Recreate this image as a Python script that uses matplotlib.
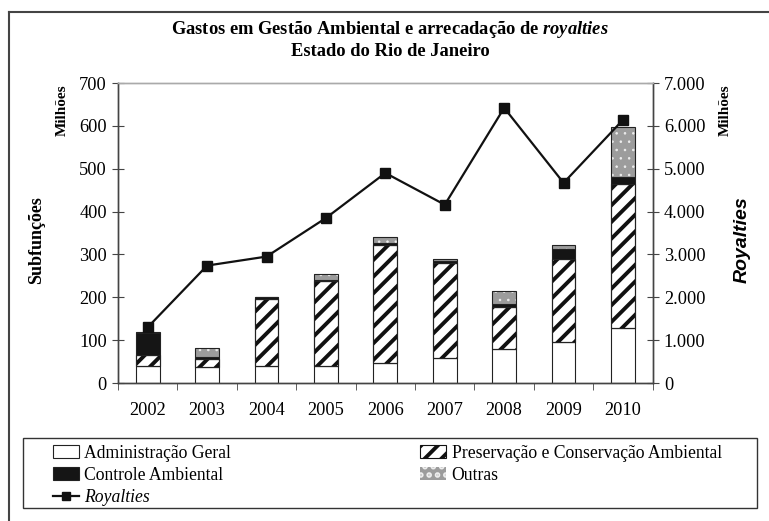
import matplotlib
matplotlib.use("Agg")
import matplotlib.pyplot as plt
from matplotlib.patches import Patch, Rectangle
from matplotlib.lines import Line2D
import numpy as np

years = ["2002", "2003", "2004", "2005", "2006", "2007", "2008", "2009", "2010"]
admin = [40, 37, 40, 40, 47, 58, 80, 96, 128]
preserv = [26, 20, 157, 198, 276, 222, 97, 194, 336]
controle = [51, 3, 3, 3, 3, 5, 8, 23, 16]
outras = [3, 22, 0, 13, 14, 4, 29, 10, 117]
royalties = [1300, 2740, 2950, 3850, 4900, 4160, 6420, 4670, 6140]

left_ticks = [0, 100, 200, 300, 400, 500, 600, 700]
right_ticks = [0, 1000, 2000, 3000, 4000, 5000, 6000, 7000]
right_labels = ["0", "1.000", "2.000", "3.000", "4.000", "5.000", "6.000", "7.000"]

plt.rcParams['font.family'] = ['Liberation Serif', 'DejaVu Serif']
plt.rcParams['mathtext.fontset'] = 'custom'
plt.rcParams['mathtext.it'] = 'Liberation Serif:italic:bold'
plt.rcParams['mathtext.rm'] = 'Liberation Serif:bold'
plt.rcParams['hatch.linewidth'] = 2.8

fig = plt.figure(figsize=(7.69, 5.21), dpi=100)
ax = fig.add_axes([118/769, 1-383/521, (652.7-118)/769, 300/521])
ax2 = ax.twinx()

x = np.arange(len(years))
w = 0.40
edge = '#222222'
b1 = np.array(admin)
b2 = b1 + np.array(preserv)
b3 = b2 + np.array(controle)
gray = '#9c9c9c'

ax.bar(x, admin, w, color='white', edgecolor=edge, linewidth=0.8, zorder=2)
ax.bar(x, preserv, w, bottom=b1, color='white', edgecolor='#111111', hatch='//', linewidth=0.8, zorder=2)
ax.bar(x, preserv, w, bottom=b1, color='none', edgecolor=edge, linewidth=0.8, zorder=3)
ax.bar(x, controle, w, bottom=b2, color='#151515', edgecolor=edge, linewidth=0.8, zorder=2)
with plt.rc_context({'hatch.linewidth': 0.6}):
    ax.bar(x, outras, w, bottom=b3, color=gray, edgecolor='#eeeeee', hatch='..', linewidth=0, zorder=2)
    h_out = Patch(facecolor=gray, edgecolor='#eeeeee', hatch='..', linewidth=0)
ax.bar(x, outras, w, bottom=b3, color='none', edgecolor=edge, linewidth=0.8, zorder=3)

ax.set_xlim(-0.5, 8.5)
ax.set_ylim(0, 700)
ax.set_yticks(left_ticks)
ax.set_xticks(x)
ax.set_xticklabels(years)
ax.set_xticks(np.arange(-0.5, 9, 1), minor=True)
ax.tick_params(axis='x', which='major', length=0, pad=14, labelsize=13.2)
ax.tick_params(axis='x', which='minor', length=5, direction='out', color='#444444')
ax.tick_params(axis='y', length=8, direction='inout', labelsize=13.2, color='#444444', pad=4)

ax2.plot(x, royalties, color='#111111', lw=1.6, marker='s', markersize=6.5, zorder=5)
ax2.set_ylim(0, 7000)
ax2.set_yticks(right_ticks)
ax2.set_yticklabels(right_labels)
ax2.tick_params(axis='y', length=8, direction='inout', labelsize=13.2, color='#444444', pad=4)

for a in (ax, ax2):
    a.spines['left'].set_color('#444444')
    a.spines['right'].set_color('#444444')
    a.spines['bottom'].set_color('#444444')
    a.spines['top'].set_color('#aaaaaa')
    for s in a.spines.values():
        s.set_linewidth(1.0)

# axis labels
fig.text(37/769, 1-240/521, 'Subfunções', rotation=90, ha='center', va='center',
         fontsize=13, fontweight='bold')
fig.text(62/769, 1-110/521, 'Milhões', rotation=90, ha='center', va='center',
         fontsize=11, fontweight='bold')
fig.text(725/769, 1-110/521, 'Milhões', rotation=90, ha='center', va='center',
         fontsize=11, fontweight='bold')
fig.text(742/769, 1-240/521, 'Royalties', rotation=90, ha='center', va='center',
         fontsize=14, fontweight='bold', style='italic', family='Liberation Sans')

# title
fig.text(390/769, 1-29/521, r'Gastos em Gestão Ambiental e arrecadação de $royalties$',
         ha='center', va='center', fontsize=13.3, fontweight='bold')
fig.text(390/769, 1-52/521, 'Estado do Rio de Janeiro',
         ha='center', va='center', fontsize=13.3, fontweight='bold')

# outer frame (left and top visible)
fig.add_artist(Line2D([9/769, 9/769], [0, 1-12/521], transform=fig.transFigure, color='#444444', lw=1.5))
fig.add_artist(Line2D([9/769, 1], [1-12/521, 1-12/521], transform=fig.transFigure, color='#444444', lw=1.5))

# legend box
fig.add_artist(Rectangle((22.7/769, 1-507.7/521), (756.7-22.7)/769, (507.7-437.7)/521,
                         transform=fig.transFigure, fill=False, edgecolor='#333333', lw=1.0))

h_admin = Patch(facecolor='white', edgecolor=edge, linewidth=0.8)
h_ctrl = Patch(facecolor='#151515', edgecolor=edge, linewidth=0.8)
h_roy = Line2D([], [], color='#111111', lw=1.6, marker='s', markersize=6)
h_pres = Patch(facecolor='white', edgecolor='#111111', hatch='//', linewidth=0.8)

leg = fig.legend([h_admin, h_ctrl, h_roy, h_pres, h_out],
                 ['Administração Geral', 'Controle Ambiental', 'Royalties',
                  'Preservação e Conservação Ambiental', 'Outras'],
                 ncol=2, loc='upper left', bbox_to_anchor=(49/769, 1-441/521),
                 frameon=False, fontsize=12.7, handlelength=1.5, handleheight=0.7,
                 handletextpad=0.3, labelspacing=0.29, columnspacing=10.7,
                 borderaxespad=0, borderpad=0.2)
leg.get_texts()[2].set_style('italic')

fig.savefig('out.png', dpi=100)
